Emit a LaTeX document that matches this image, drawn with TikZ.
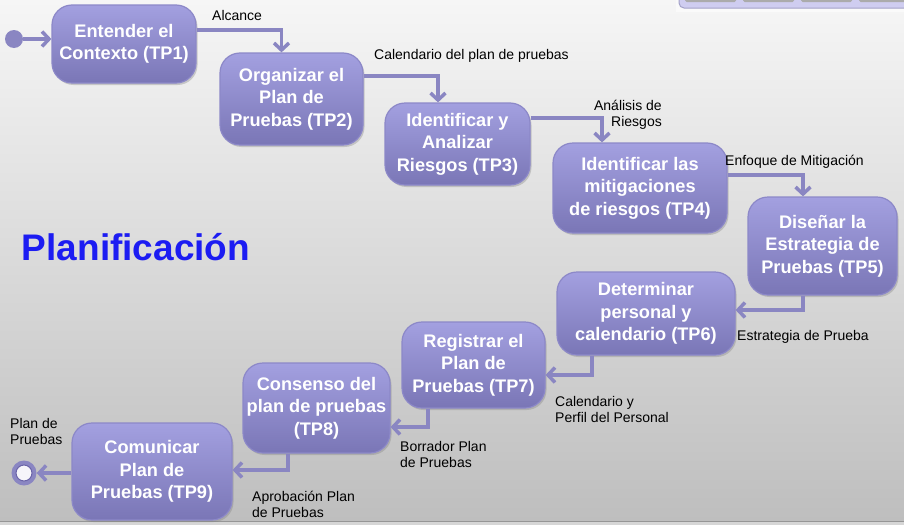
\documentclass[tikz,border=0pt]{standalone}
\usepackage{fontspec}
\setmainfont{Liberation Sans}
\usetikzlibrary{arrows.meta,shadows}
\definecolor{bgtop}{HTML}{F6F6F6}
\definecolor{bgbot}{HTML}{BEBEBE}
\definecolor{boxtop}{HTML}{A3A0E0}
\definecolor{boxbot}{HTML}{7A76B6}
\definecolor{boxedge}{HTML}{8C88C8}
\definecolor{conn}{HTML}{8A86C2}
\definecolor{ringdark}{HTML}{6A64A8}
\definecolor{titleblue}{HTML}{1C1CF2}
\definecolor{panelfill}{HTML}{CFCDF0}
\definecolor{paneledge}{HTML}{A4A2C8}
\definecolor{btn}{HTML}{ABABAB}
\tikzset{
 stage/.style={rounded corners=20pt, top color=boxtop, bottom color=boxbot, draw=boxedge,
   line width=1.2pt, align=center, text=white, font=\fontsize{18.2}{22.5}\selectfont\bfseries,
   inner sep=0pt, drop shadow={opacity=0.35, shadow xshift=1.5pt, shadow yshift=-2pt}},
 flow/.style={draw=conn, line width=3.5pt, -{Straight Barb[length=7pt,width=15pt]}},
 lbl/.style={font=\fontsize{14}{16}\selectfont, inner sep=0pt, text=black},
}
\begin{document}
\begin{tikzpicture}[x=1pt,y=-1pt]
\useasboundingbox (0,0) rectangle (904,525);
% background
\fill[top color=bgtop, bottom color=bgbot] (0,0) rectangle (904,521);
\fill[color={rgb,255:red,214;green,214;blue,214}] (0,521) rectangle (904,525);
\draw[color={rgb,255:red,150;green,150;blue,150}, line width=0.8pt] (0,521) -- (904,521);
% top-right panel
\fill[white!96!gray] (676,0) rectangle (904,12);
\draw[rounded corners=5pt, fill=panelfill, draw=paneledge, line width=1pt] (679,-10) rectangle (912,8);
\foreach \a in {685,743,801,859} {
  \fill[btn, rounded corners=1.5pt] (\a,-6) rectangle ({\a+51},2);
}
% title
\node[font=\fontsize{37}{40}\selectfont\bfseries, text=titleblue] (title) at (136,247) {Planificación};
% stages
\node[stage, minimum width=144pt, minimum height=78pt] (tp1) at (124,44) {Entender el\\Contexto (TP1)};
\node[stage, minimum width=143pt, minimum height=92pt] (tp2) at (291.5,99) {Organizar el\\Plan de\\Pruebas (TP2)};
\node[stage, minimum width=145pt, minimum height=82pt] (tp3) at (457.5,144) {Identificar y\\Analizar\\Riesgos (TP3)};
\node[stage, minimum width=174pt, minimum height=90pt] (tp4) at (640,188) {Identificar las\\mitigaciones\\de riesgos (TP4)};
\node[stage, minimum width=149pt, minimum height=98pt] (tp5) at (822.5,246) {Diseñar la\\Estrategia de\\Pruebas (TP5)};
\node[stage, minimum width=178pt, minimum height=83pt] (tp6) at (646,313.5) {Determinar\\personal y\\calendario (TP6)};
\node[stage, minimum width=143pt, minimum height=86pt] (tp7) at (473.5,365) {Registrar el\\Plan de\\Pruebas (TP7)};
\node[stage, minimum width=147pt, minimum height=90pt] (tp8) at (316.5,408) {Consenso del\\plan de pruebas\\(TP8)};
\node[stage, minimum width=160pt, minimum height=97pt] (tp9) at (152,471.5) {Comunicar\\Plan de\\Pruebas (TP9)};
% start and end
\node[circle, fill=conn, minimum size=18pt, inner sep=0pt] (start) at (14,39) {};
\node[circle, fill=conn, minimum size=25pt, inner sep=0pt] (endo) at (24,473) {};
\node[circle, fill=white!92!conn, draw=ringdark, line width=1pt, minimum size=16pt, inner sep=0pt] (endi) at (24,473) {};
% connectors
\draw[flow] (start) -- ([yshift=5pt]tp1.west);
\draw[flow] ([yshift=14pt]tp1.east) -| ([xshift=-10pt]tp2.north);
\draw[flow] ([yshift=23pt]tp2.east) -| ([xshift=-19.5pt]tp3.north);
\draw[flow] ([yshift=26pt]tp3.east) -| ([xshift=-38pt]tp4.north);
\draw[flow] ([yshift=13pt]tp4.east) -| ([xshift=-19.5pt]tp5.north);
\draw[flow] ([xshift=-19.5pt]tp5.south) |- ([yshift=3.5pt]tp6.east);
\draw[flow] ([xshift=-54pt]tp6.south) |- ([yshift=-10pt]tp7.east);
\draw[flow] ([xshift=-45.5pt]tp7.south) |- ([yshift=-19pt]tp8.east);
\draw[flow] ([xshift=-28.5pt]tp8.south) |- ([yshift=1.5pt]tp9.east);
\draw[flow] ([yshift=-1.5pt]tp9.west) -- (endo.east);
% labels
\node[lbl, anchor=west] (l1) at (212,15) {Alcance};
\node[lbl, anchor=west] (l2) at (374,56) {Calendario del plan de pruebas};
\node[lbl, anchor=east, align=right] (l3) at (662,114.5) {Análisis de\\Riesgos};
\node[lbl, anchor=west] (l4) at (725,162) {Enfoque de Mitigación};
\node[lbl, anchor=west] (l5) at (737,337) {Estrategia de Prueba};
\node[lbl, anchor=west, align=left] (l6) at (555,409.5) {Calendario y\\Perfil del Personal};
\node[lbl, anchor=west, align=left] (l7) at (400,454.5) {Borrador Plan\\de Pruebas};
\node[lbl, anchor=west, align=left] (l8) at (252,504.5) {Aprobación Plan\\de Pruebas};
\node[lbl, anchor=west, align=left] (l9) at (10,431.5) {Plan de\\Pruebas};
\end{tikzpicture}
\end{document}
